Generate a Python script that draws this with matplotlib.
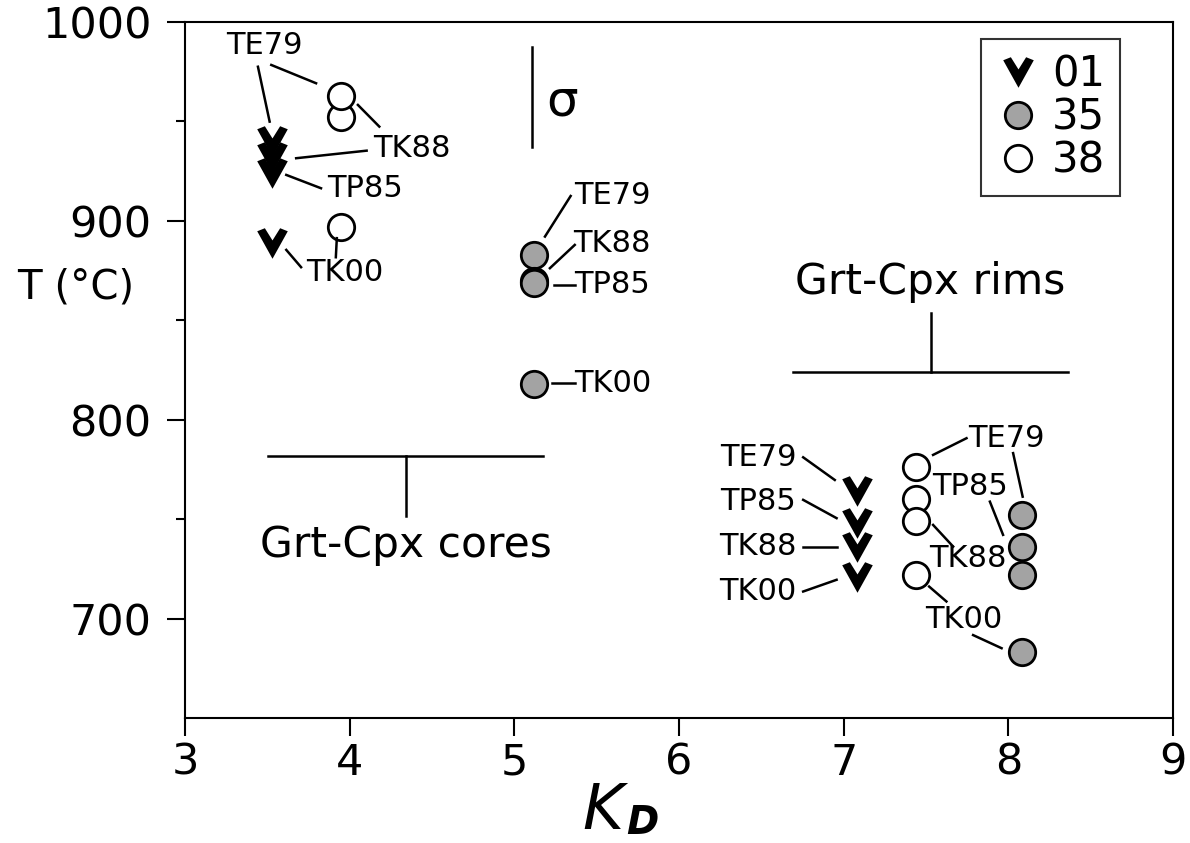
import matplotlib.pyplot as plt
from matplotlib.path import Path
from matplotlib.lines import Line2D

# sample 01 (chevrons)
refs_01_core = ['TE79', 'TK88', 'TP85', 'TK00']
kd_01_core = [3.53, 3.53, 3.53, 3.53]
t_01_core = [940, 932, 924, 889]
refs_01_rim = ['TE79', 'TP85', 'TK88', 'TK00']
kd_01_rim = [7.08, 7.08, 7.08, 7.08]
t_01_rim = [764, 748, 736, 721]

# sample 35 (grey circles)
refs_35_core = ['TE79', 'TK88', 'TP85', 'TK00']
kd_35_core = [5.12, 5.12, 5.12, 5.12]
t_35_core = [883, 870, 869, 818]
refs_35_rim = ['TE79', 'TP85', 'TK88', 'TK00']
kd_35_rim = [8.085, 8.085, 8.085, 8.085]
t_35_rim = [752, 736, 722, 683]

# sample 38 (open circles)
refs_38_core = ['TE79', 'TK88', 'TK00']
kd_38_core = [3.945, 3.945, 3.945]
t_38_core = [963, 952, 897]
refs_38_rim = ['TE79', 'TP85', 'TK88', 'TK00']
kd_38_rim = [7.44, 7.44, 7.44, 7.44]
t_38_rim = [776, 760, 749, 722]

sample_names = ['01', '35', '38']
sigma_t = 50

# chevron marker: two lobes on top, point at the bottom
chevron = Path([(-1.0, 0.8), (-0.5, 1.0), (0.0, 0.2), (0.5, 1.0),
                (1.0, 0.8), (0.0, -1.0), (-1.0, 0.8)],
               [Path.MOVETO] + [Path.LINETO] * 5 + [Path.CLOSEPOLY])

styles = {
    '01': dict(marker=chevron, ms=22, mfc='black', mec='black', mew=0),
    '35': dict(marker='o', ms=19, mfc='#a3a3a3', mec='black', mew=2),
    '38': dict(marker='o', ms=19, mfc='white', mec='black', mew=2),
}

fig = plt.figure(figsize=(11.9, 8.43), dpi=100)
ax = fig.add_axes([185 / 1190, 1 - 718 / 843, 988 / 1190, 696 / 843])

ax.plot(kd_01_core, t_01_core, ls='none', **styles['01'])
ax.plot(kd_01_rim, t_01_rim, ls='none', **styles['01'])
ax.plot(kd_35_core, t_35_core, ls='none', **styles['35'])
ax.plot(kd_35_rim, t_35_rim, ls='none', **styles['35'])
ax.plot(kd_38_core[::-1], t_38_core[::-1], ls='none', **styles['38'])
ax.plot(kd_38_rim, t_38_rim, ls='none', **styles['38'])

ax.set_xlim(3, 9)
ax.set_ylim(650, 1000)
ax.set_xticks(range(3, 10))
ax.set_yticks([700, 800, 900, 1000])
ax.set_yticks([750, 850, 950], minor=True)
ax.tick_params(axis='both', which='major', direction='out', length=13,
               width=1.5, labelsize=31, colors='black')
ax.tick_params(axis='y', which='major', pad=11)
ax.tick_params(axis='x', which='major', pad=4)
ax.tick_params(axis='y', which='minor', direction='out', length=6.5, width=1.5)
for sp in ax.spines.values():
    sp.set_linewidth(1.5)

ax.set_ylabel('T (°C)', rotation=0, fontsize=29, ha='center', va='center')
ax.yaxis.set_label_coords(-0.111, 0.618)

fig.text(603 / 1190, 1 - 812 / 843, 'K', fontsize=45, style='italic',
         ha='center', va='center')
fig.text(642 / 1190, 1 - 823 / 843, 'D', fontsize=28, style='italic',
         weight='bold', ha='center', va='center')

# reference labels and leader lines
lab = dict(fontsize=22, ha='center', va='center')
line = dict(color='black', lw=1.8)

# cores, sample 01 and 38
ax.text(3.483, 988.4, 'TE79', **lab)
ax.plot([3.443, 3.514], [977.5, 949.9], **line)
ax.plot([3.524, 3.796], [978.4, 969.2], **line)
ax.text(4.377, 936.5, 'TK88', **lab)
ax.plot([4.050, 4.180], [958.3, 947.4], **line)
ax.plot([3.675, 4.103], [931.5, 935.3], **line)
ax.text(4.093, 916.4, 'TP85', **lab)
ax.plot([3.615, 3.826], [923.1, 916.4], **line)
ax.text(3.972, 874.2, 'TK00', **lab)
ax.plot([3.615, 3.705], [885.4, 876.7], **line)
ax.plot([3.922, 3.916], [891.3, 881.7], **line)

# cores, sample 35
ax.text(5.595, 913.0, 'TE79', **lab)
ax.plot([5.186, 5.342], [892.1, 912.5], **line)
ax.text(5.595, 888.7, 'TK88', **lab)
ax.plot([5.216, 5.367], [876.2, 887.9], **line)
ax.text(5.595, 867.8, 'TP85', **lab)
ax.plot([5.241, 5.367], [867.8, 867.8], **line)
ax.text(5.595, 818.4, 'TK00', **lab)
ax.plot([5.227, 5.367], [818.4, 818.4], **line)

# rims, sample 01
ax.text(6.481, 781.1, 'TE79', **lab)
ax.plot([6.754, 6.946], [781.1, 769.7], **line)
ax.text(6.481, 758.8, 'TP85', **lab)
ax.plot([6.754, 6.957], [759.7, 750.5], **line)
ax.text(6.481, 736.2, 'TK88', **lab)
ax.plot([6.754, 6.957], [735.9, 735.9], **line)
ax.text(6.481, 713.6, 'TK00', **lab)
ax.plot([6.754, 6.957], [713.6, 719.5], **line)

# rims, sample 38 and 35
ax.text(7.989, 790.7, 'TE79', **lab)
ax.plot([7.543, 7.746], [782.3, 790.7], **line)
ax.plot([8.029, 8.087], [783.2, 761.3], **line)
ax.text(7.766, 766.4, 'TP85', **lab)
ax.plot([7.888, 7.968], [758.8, 742.1], **line)
ax.text(7.756, 730.4, 'TK88', **lab)
ax.plot([7.543, 7.665], [747.1, 736.2], **line)
ax.text(7.730, 699.3, 'TK00', **lab)
ax.plot([7.519, 7.624], [716.1, 708.6], **line)
ax.plot([7.786, 7.959], [691.7, 685.1], **line)

# group brackets
ax.plot([3.503, 5.176], [781.8, 781.8], **line)
ax.plot([4.340, 4.340], [781.8, 751.6], **line)
ax.text(4.340, 737.1, 'Grt-Cpx cores', fontsize=30.5, ha='center', va='center')
ax.plot([6.694, 8.363], [824.2, 824.2], **line)
ax.plot([7.528, 7.528], [824.2, 853.5], **line)
ax.text(7.524, 869.4, 'Grt-Cpx rims', fontsize=30.5, ha='center', va='center')

# 1 sigma bar
ax.plot([5.108, 5.108], [987.3, 987.3 - sigma_t], **line)
ax.text(5.287, 959.9, 'σ', fontsize=36, ha='center', va='center')

handles = [Line2D([], [], ls='none', **styles[s]) for s in sample_names]
leg = ax.legend(handles, sample_names, loc='upper right',
                bbox_to_anchor=(0.9464, 0.9756), borderaxespad=0,
                fontsize=30, frameon=True, fancybox=False,
                handlelength=1.05, handletextpad=0.3, labelspacing=0.02,
                borderpad=0.35)
leg.get_frame().set_edgecolor('black')
leg.get_frame().set_linewidth(1.5)

fig.savefig('out.png', dpi=100)
